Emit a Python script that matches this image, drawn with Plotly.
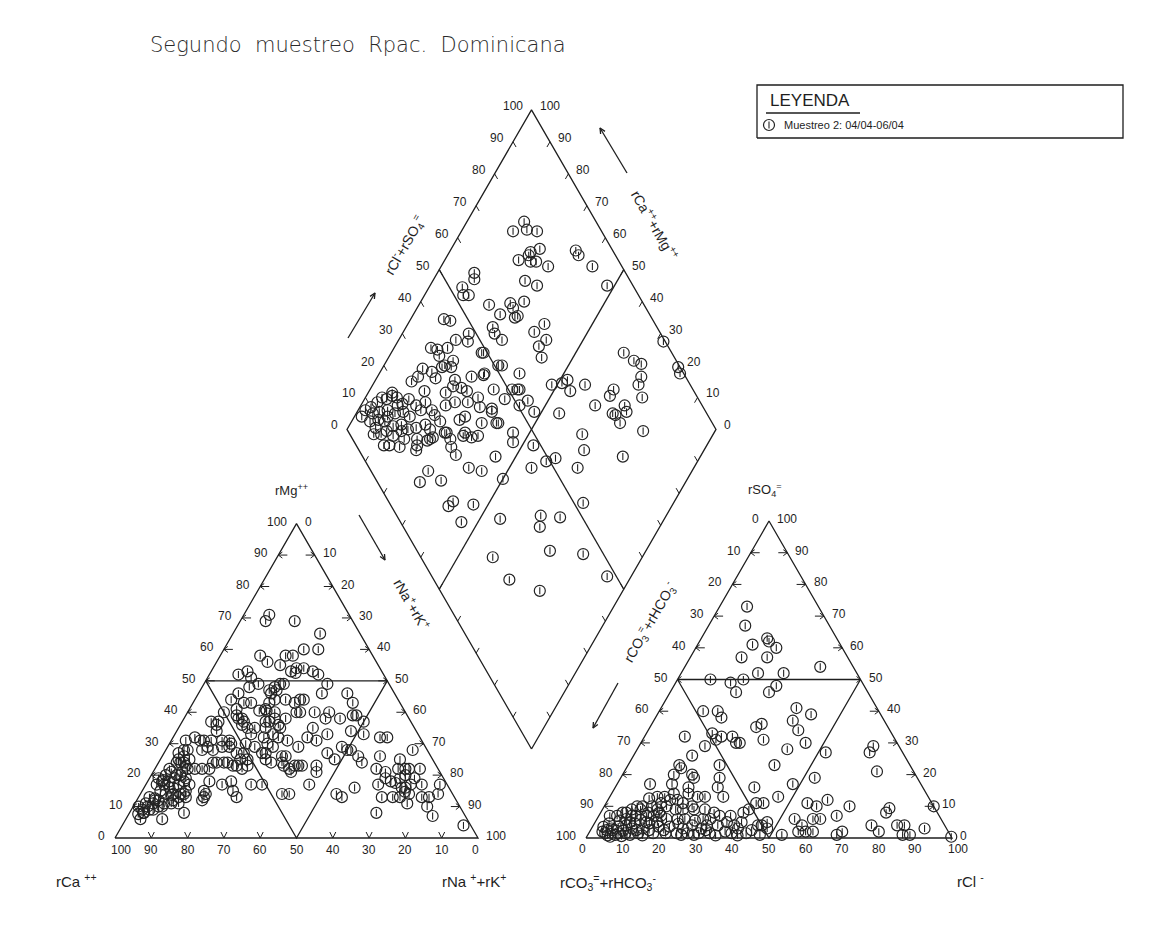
import math
import plotly.graph_objects as go

# ---------------------------------------------------------------
# Sample data (meq %), second sampling campaign
# ---------------------------------------------------------------
# Cation triangle: rMg++ and rNa+ + rK+ (rCa++ is the remainder)
rMg = [
    71, 69, 69, 65, 60, 58, 56, 58, 58, 60,
    55, 53, 54, 54, 53, 52, 52, 53, 51, 52.5,
    49, 47, 48, 49, 49, 46, 47, 49, 46, 44,
    43, 44, 44, 46, 48, 46, 43, 43, 43, 43,
    44, 41, 44, 40.5, 40, 40.5, 40, 41, 39, 38,
    38, 37, 36, 35, 37, 36, 37, 34, 40, 40,
    38, 38, 37, 37, 36, 40, 38, 40, 38, 39,
    39, 37, 35, 35, 35, 35, 33, 33, 32, 32,
    30, 31, 32, 31, 33, 34, 33, 32, 32, 31,
    31, 31, 31, 31, 31, 30, 30, 29, 28, 27,
    26, 28, 29, 28, 29, 29, 27, 27, 25, 25,
    29, 27, 27, 25, 26, 26, 29, 27, 25, 29,
    28, 28, 26, 24, 26, 28, 25, 24, 24, 24,
    22, 22, 22, 22, 24, 24, 24, 24, 23, 23,
    22, 23, 24, 23, 22, 23, 23, 23, 23, 21,
    21, 24, 22, 21, 22, 22, 22, 22, 18, 17,
    19, 20, 19, 17, 18, 17, 18, 17, 17, 17,
    16, 17, 19, 18, 19, 20, 19, 17, 17, 17,
    17.5, 16, 13, 12, 11, 12, 10, 12, 13, 14,
    14, 15, 14, 13, 12, 15, 13, 14, 14, 14,
    13, 13, 13, 13, 14.7, 14, 13, 13, 14, 11,
    16, 10, 9, 10, 11, 6, 6, 8, 8, 8,
    7, 4, 10, 12.6, 14, 16, 16, 17, 18, 18,
    20, 21, 22, 23, 25, 28, 25, 21, 20, 19,
    18.4, 17, 15, 13.7, 14, 13, 11, 11, 11, 10,
    9, 9, 8, 7.6, 15, 32,
]
rNaK = [
    7, 7, 15, 24, 26, 11, 14, 18, 20, 22,
    18, 22, 23, 25, 28, 30, 8, 10, 12, 23.5,
    15, 19, 20, 21, 22, 20, 21, 34, 34, 30,
    28, 29, 10, 11, 13, 41, 44, 16, 14, 21,
    22, 21, 25, 21.5, 24, 19.5, 10, 13, 14, 16,
    15, 17, 17, 19, 10, 10, 8, 11, 30, 31,
    28, 25, 24, 23, 27, 35, 39, 39, 43, 46,
    47, 50, 37, 21, 24, 28, 21, 27, 29, 25,
    27, 32, 37, 40, 42, 48, 52, 57, 59, 9,
    8, 4, 11, 14, 16, 17, 21, 24, 6, 4,
    6, 10, 11, 13, 15, 17, 20, 22, 24, 22,
    29, 28, 27, 29, 33, 34, 36, 45, 48, 48,
    50, 51, 54, 56, 60, 68, 66, 5, 6, 7,
    4, 11, 13, 15, 15, 16, 18, 19, 21, 22,
    24, 25, 34, 35, 37, 38, 39, 40, 44, 45,
    38, 31, 61, 64, 67, 69, 70, 73, 4, 5,
    7, 8, 10, 12, 17, 21, 23, 29, 32, 45,
    58, 64, 65, 67, 69, 70, 73, 76, 73, 81,
    68.5, 71, 3, 5, 3, 6, 8, 10, 11, 12,
    9, 12, 18, 18, 18, 25, 27, 39, 41, 54,
    56, 67, 70, 72, 72.5, 74, 78, 80, 82, 75,
    72, 1.5, 3, 4, 5, 10, 4, 4, 15, 68,
    84, 94, 81, 4.7, 7, 7, 8, 9, 10, 6,
    7, 8, 9, 8, 8, 5, 5, 5, 4, 2.5,
    4.1, 3, 5, 8.8, 11, 13, 12, 10, 8, 7,
    6, 5, 3.8, 2.6, 17, 6,
]

# Anion triangle: rSO4= and rCl- (rCO3= + rHCO3- is the remainder)
rSO4 = [
    73, 67, 63, 62, 60, 61, 57, 57, 54, 52,
    52, 50, 49, 50, 46, 46, 48, 40, 40, 38,
    36, 35, 41, 39, 37, 34, 32, 33, 31, 32,
    32, 30, 30, 31, 30, 29, 28, 27, 27, 29,
    26, 23, 23, 23, 22, 21, 20, 17, 20, 19,
    16, 14, 17, 16, 19, 16, 17, 19, 13, 11,
    11, 11, 10, 12, 10, 8, 9.4, 10, 7, 6,
    4, 6, 6, 2, 2, 2, 1, 2, 4, 2,
    4, 4, 1, 1, 3, 0.4, 1, 5, 4, 4,
    1.5, 1.5, 2, 9, 8, 7, 7, 5, 4, 4,
    1.5, 1.5, 4, 1.5, 1.5, 12.5, 13, 13, 14, 12,
    13, 13, 11, 12, 8, 10, 10, 10, 9, 10,
    9, 9, 9, 9, 8, 7, 7, 8, 7, 7,
    7, 7, 7, 6, 6, 6, 5.5, 6, 6, 4,
    5, 1.5, 0.4, 2.5, 3.6, 1.5, 2.3, 4, 1.5, 3,
    4.6, 1.5, 3, 4.6, 1.5, 3.6, 1.5, 3.6, 3, 3,
    4.6, 3, 2.5, 1, 0.6, 5, 5.7, 9, 9, 8,
    8, 13, 0.8, 2, 3.5, 1, 2.5, 0.8, 2.5, 5.5,
    6, 5, 2.5, 4.5, 1, 5, 11, 10, 1, 2.5,
    0.8, 3, 0.8, 2.5, 1, 3,
]
rCl = [
    7.5, 10, 18, 19, 22, 15, 14, 21, 37, 21,
    28, 9, 15, 18, 18, 27, 28, 12, 16, 18,
    30, 29, 37, 42, 38, 41, 11, 18, 20, 21,
    24, 26, 27, 33, 45, 18, 41, 52, 64, 64,
    16, 25, 40, 14, 15, 69, 14, 9, 19, 20,
    20, 21, 15, 28, 27, 38, 48, 53, 46, 43,
    41, 55, 58, 60, 67, 78, 78.2, 90, 65, 54,
    57, 59, 61, 57, 59, 61, 68, 69, 76, 79,
    83, 85, 86, 88, 91, 99.6, 53, 47, 46, 45,
    43, 39, 37, 40, 39, 36, 33, 36, 34, 31,
    33, 30, 27, 27, 24, 11, 13, 15, 17, 19,
    24, 26, 15, 17, 7, 9, 10.5, 13, 15, 17,
    20, 22, 25, 28, 31, 3, 5, 6, 9, 10,
    13, 15, 17, 19, 22, 24, 27, 29, 31, 38.5,
    40, 4.5, 6.4, 6, 7, 8, 9, 9, 10, 11,
    11, 13.5, 14, 15, 17.6, 18, 21, 21, 25, 30,
    4, 5.5, 4.4, 7.5, 9.4, 9.5, 12, 8, 10.4, 13,
    16, 31, 5.5, 3.5, 3, 11.5, 12.5, 15, 16, 6.5,
    8, 17, 20, 23, 25.5, 14, 21, 24, 29, 31.5,
    35, 40, 41, 44, 47, 48,
]

# Central diamond: rCl- + rSO4= and rCa++ + rMg++
rombo_cl_so4 = [
    80.5, 76, 80, 82.5, 77.5, 80.5, 76.5, 73, 76, 77.5,
    80, 90, 90, 92, 93, 59, 58, 53.5, 71.5, 74,
    52.5, 54, 58, 59.5, 64, 64, 63, 64, 68, 43.5,
    45, 55.5, 55, 56, 66, 70, 68, 65, 64, 99.5,
    87, 88.5, 90, 99.5, 99, 88, 86, 85, 78.5, 76.5,
    71, 79, 74.5, 75, 78.5, 75, 71.5, 60, 62.5, 65.5,
    67.5, 66.5, 80, 70.5, 63, 61, 56.5, 44, 49, 52,
    48, 43, 44.5, 34.5, 36, 30, 27, 25.5, 17.5, 15.5,
    11.5, 41.5, 42.5, 49, 52, 45.5, 42, 46, 51, 53,
    50.5, 53.5, 53.5, 35.5, 37, 40, 43.5, 48, 46.5, 36.5,
    36.5, 39.5, 48.5, 51, 55.5, 30, 32, 35.5, 38, 46,
    25, 27.5, 32, 35.5, 37.5, 38.5, 40.5, 42, 47.5, 52.5,
    21.5, 22.5, 25.5, 26, 26, 30.5, 33.5, 37, 39.5, 37.5,
    42, 32, 10, 12.5, 14.5, 15.5, 17.5, 18.5, 19, 9.5,
    11.5, 14, 15.5, 18, 19, 6, 10, 11.5, 13, 15.5,
    8.5, 10.5, 11.5, 14.5, 16.5, 19, 22, 22.5, 22, 20,
    17.5, 14, 9, 11.5, 16.5, 26.5, 31.5, 32.5, 34.5, 25.5,
    6.5, 7.5, 15.5, 21, 26.5, 30.5, 8, 7.5, 8, 13,
    17.5, 18, 23, 26.5, 27, 32.5, 37, 17.5, 15.5, 22.5,
    16.5, 27.5, 39, 37, 44, 52.5, 19.5, 36, 44.5, 20.5,
    27, 47.5, 34, 26,
]
rombo_ca_mg = [
    84.5, 86, 82.5, 79.5, 78, 76, 78, 80, 76.5, 75,
    71, 66, 64.5, 59, 52, 90, 89, 91, 75, 71,
    89.5, 88, 81, 76.5, 75.5, 74, 72, 71.5, 72, 91,
    89, 76.5, 75, 72, 64.5, 63, 60, 61, 58.5, 28,
    37, 33, 30.5, 20, 18.5, 28.5, 28, 25, 34, 34,
    36.5, 28.5, 30.5, 29.5, 27, 27, 42.5, 45, 51.5, 49,
    48, 45.5, 19.5, 21, 35.5, 32.5, 31.5, 44, 41, 39,
    47, 53, 54.5, 50, 55.5, 57, 61, 66.5, 66.5, 71.5,
    72, 60.5, 64, 75, 68, 71.5, 74.5, 66.5, 61.5, 59.5,
    57, 55.5, 52, 90, 88, 85.5, 84.5, 82, 81, 86.5,
    83.5, 82, 75.5, 69, 62, 89, 86, 84, 81.5, 71.5,
    90, 89, 84, 78, 75.5, 73.5, 69.5, 63.5, 62, 60,
    88, 85, 83, 80, 78.5, 77, 75, 71.5, 67.5, 64.5,
    60, 71, 97, 96, 95.5, 94, 93, 91.5, 89, 95.5,
    94, 92, 89.5, 87.5, 85, 98, 93, 91, 88, 86,
    90, 89, 86.5, 85, 83.5, 81.5, 79.5, 77.5, 75.5, 76.5,
    79.5, 83, 86, 83, 78.5, 70.5, 67.5, 65, 63.5, 69,
    92, 87.5, 78, 76, 72.5, 67.5, 98, 95, 92.5, 91,
    90, 93.5, 83, 76, 85, 79, 78.5, 60, 60.5, 54,
    54.5, 44.5, 34, 32.5, 28.5, 24.5, 40.5, 26, 16.5, 32.5,
    22.5, 6.5, 70, 73,
]

TICKS = list(range(0, 101, 10))

# ---------------------------------------------------------------
# Diagram geometry (plot units = screen pixels, y pointing up)
# ---------------------------------------------------------------
W, H = 1169, 939
S60 = math.sqrt(3) / 2
CAT = (115.0, 101.0, 363.0)    # cation triangle: lower-left corner, side
ANI = (586.0, 101.0, 366.0)    # anion triangle: lower-left corner, side
ROMBO = (531.5, 190.0, 369.0)  # diamond: bottom vertex, side

INK = "#1e1e1e"
MARK = "#232323"
FONT = "Liberation Sans, Arial, sans-serif"


def tri(frame, right, top):
    """Ternary -> xy: 'right' = % of lower-right corner, 'top' = % of apex."""
    x0, y0, s = frame
    return (x0 + s * (right + top / 2.0) / 100.0, y0 + s * S60 * top / 100.0)


def rombo(cl_so4, ca_mg):
    xb, yb, s = ROMBO
    return (xb + s * 0.5 * (cl_so4 - ca_mg) / 100.0,
            yb + s * S60 * (cl_so4 + ca_mg) / 100.0)


class Polylines:
    def __init__(self):
        self.x, self.y = [], []

    def add(self, *pts):
        for p in pts:
            self.x.append(p[0])
            self.y.append(p[1])
        self.x.append(None)
        self.y.append(None)


def off(p, dx, dy):
    return (p[0] + dx, p[1] + dy)


frame_lines = Polylines()
tick_lines = Polylines()
annotations = []


def label(x, y, text, anchor="center", size=12, angle=0):
    annotations.append(dict(
        x=x, y=y, xref="x", yref="y", text=text, showarrow=False,
        xanchor=anchor, yanchor="middle", textangle=angle,
        font=dict(family=FONT, size=size, color=INK)))


def arrow(p0, p1, head=6.0):
    """Line arrow from p0 to p1 with an open head at p1."""
    dx, dy = p1[0] - p0[0], p1[1] - p0[1]
    n = math.hypot(dx, dy)
    ux, uy = dx / n, dy / n
    a = math.radians(25)
    h1 = (p1[0] - head * (ux * math.cos(a) - uy * math.sin(a)),
          p1[1] - head * (uy * math.cos(a) + ux * math.sin(a)))
    h2 = (p1[0] - head * (ux * math.cos(a) + uy * math.sin(a)),
          p1[1] - head * (uy * math.cos(a) - ux * math.sin(a)))
    frame_lines.add(p0, p1)
    frame_lines.add(h1, p1, h2)


# ---------- two triangles ----------
for frame in (CAT, ANI):
    frame_lines.add(tri(frame, 0, 0), tri(frame, 100, 0), tri(frame, 0, 100), tri(frame, 0, 0))
    frame_lines.add(tri(frame, 0, 50), tri(frame, 50, 50))
    frame_lines.add(tri(frame, 0, 50), tri(frame, 50, 0), tri(frame, 50, 50))
    for k in TICKS[1:-1]:
        p = tri(frame, 0, k)            # left edge: arrow pointing left
        tick_lines.add(off(p, 9, 0), p)
        tick_lines.add(off(p, 4, 3), p, off(p, 4, -3))
        q = tri(frame, 100 - k, k)      # right edge: arrow pointing right
        tick_lines.add(off(q, -9, 0), q)
        tick_lines.add(off(q, -4, 3), q, off(q, -4, -3))

# bottom chevrons of the cation triangle
for k in TICKS[1:-1]:
    if k == 50:
        continue
    r = tri(CAT, k, 0)
    tick_lines.add(off(r, -3, 6), r, off(r, 3, 6))

# cation scales
for k in TICKS:
    p = tri(CAT, 0, k)
    label(p[0] - 8, p[1] + 2, str(k), "right")
    q = tri(CAT, 100 - k, k)
    label(q[0] + 6, q[1] + 2, str(100 - k), "left")
    r = tri(CAT, k, 0)
    shift = 6 if k == 0 else (-3 if k == 100 else 0)
    label(r[0] + shift, r[1] - 12, str(100 - k))

# anion scales
for k in TICKS:
    p = tri(ANI, 0, k)
    label(p[0] - 8, p[1] + 2, str(100 - k), "right")
    q = tri(ANI, 100 - k, k)
    label(q[0] + 6, q[1] + 2, str(k), "left")
    r = tri(ANI, k, 0)
    shift = -4 if k == 0 else (6 if k == 100 else 0)
    label(r[0] + shift, r[1] - 11, str(k))

# ---------- diamond ----------
frame_lines.add(rombo(0, 0), rombo(0, 100), rombo(100, 100), rombo(100, 0), rombo(0, 0))
frame_lines.add(rombo(50, 100), rombo(50, 0))
frame_lines.add(rombo(100, 50), rombo(0, 50))
TL = 6.0
for k in TICKS[1:-1]:
    p = rombo(k, 100)
    tick_lines.add(p, off(p, TL * 0.5, -TL * S60))
    p = rombo(100, k)
    tick_lines.add(p, off(p, -TL * 0.5, -TL * S60))
    p = rombo(0, k)
    tick_lines.add(p, off(p, TL * 0.5, TL * S60))
    p = rombo(k, 0)
    tick_lines.add(p, off(p, -TL * 0.5, TL * S60))
for k in TICKS:
    p = rombo(k, 100)
    label(p[0] - 7, p[1] + 4, str(k), "right")
    q = rombo(100, k)
    label(q[0] + 6, q[1] + 4, str(k), "left")

# axis names and direction arrows around the diamond
label(405, 694, "rCl<sup>-</sup>+rSO<sub>4</sub><sup>=</sup>", size=14, angle=-60)
arrow((348, 601), (375, 646))
label(655, 714, "rCa<sup>++</sup>+rMg<sup>++</sup>", size=14, angle=60)
arrow((627, 766), (600, 811))
label(412, 335, "rNa<sup>+</sup>+rK<sup>+</sup>", size=14, angle=60)
arrow((359, 424), (385, 379))
label(650, 317, "rCO<sub>3</sub><sup>=</sup>+rHCO<sub>3</sub><sup>-</sup>", size=14, angle=-60)
arrow((618, 256), (593, 211))

# corner names of the triangles
label(291, 449, "rMg<sup>++</sup>", size=13)
label(765, 449, "rSO<sub>4</sub><sup>=</sup>", size=13)
label(54, 59, "rCa <sup>++</sup>", "left", size=15)
label(508, 59, "rNa <sup>+</sup>+rK<sup>+</sup>", "right", size=15)
label(558, 57, "rCO<sub>3</sub><sup>=</sup>+rHCO<sub>3</sub><sup>-</sup>", "left", size=15)
label(955, 59, "rCl <sup>-</sup>", "left", size=15)

# title
annotations.append(dict(
    x=148, y=894, xref="x", yref="y", showarrow=False, xanchor="left", yanchor="middle",
    text="Segundo  muestreo  Rpac.  Dominicana",
    font=dict(family="DejaVu Sans, sans-serif", size=21, color="#2a2a2a", weight=300)))

# legend box
LEG = (757, 801, 1123, 854)
frame_lines.add((LEG[0], LEG[1]), (LEG[2], LEG[1]), (LEG[2], LEG[3]), (LEG[0], LEG[3]), (LEG[0], LEG[1]))
frame_lines.add((766, 826), (860, 826))
label(768, 839, "LEYENDA", "left", size=17)
label(782, 814, "Muestreo 2: 04/04-06/04", "left", size=11)

# ---------------------------------------------------------------
# Sample coordinates
# ---------------------------------------------------------------
cx, cy = zip(*[tri(CAT, na, mg) for mg, na in zip(rMg, rNaK)])
ax_, ay_ = zip(*[tri(ANI, cl, so4) for so4, cl in zip(rSO4, rCl)])
dx_, dy_ = zip(*[rombo(c, m) for c, m in zip(rombo_cl_so4, rombo_ca_mg)])
px = list(cx) + list(ax_) + list(dx_) + [769]
py = list(cy) + list(ay_) + list(dy_) + [814]

fig = go.Figure()
fig.add_trace(go.Scatter(x=frame_lines.x, y=frame_lines.y, mode="lines",
                         line=dict(color=INK, width=1.3), hoverinfo="skip"))
fig.add_trace(go.Scatter(x=tick_lines.x, y=tick_lines.y, mode="lines",
                         line=dict(color=INK, width=1.0), hoverinfo="skip"))
fig.add_trace(go.Scatter(x=px, y=py, mode="markers", name="Muestreo 2",
                         marker=dict(symbol="circle-open", size=11, color=MARK,
                                     line=dict(width=1.2, color=MARK))))
fig.add_trace(go.Scatter(x=px, y=py, mode="markers", hoverinfo="skip",
                         marker=dict(symbol="line-ns-open", size=5, color=MARK,
                                     line=dict(width=1.1, color=MARK))))

fig.update_layout(
    width=W, height=H, autosize=False,
    margin=dict(l=0, r=0, t=0, b=0, pad=0),
    paper_bgcolor="white", plot_bgcolor="white",
    showlegend=False,
    xaxis=dict(range=[0, W], visible=False, fixedrange=True),
    yaxis=dict(range=[0, H], visible=False, fixedrange=True),
    annotations=annotations,
)

fig.write_html("out.html")
